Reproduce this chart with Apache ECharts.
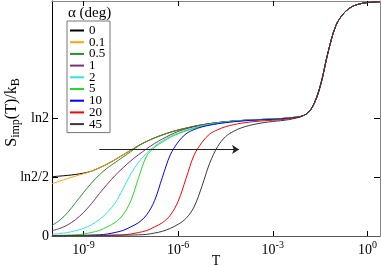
<!DOCTYPE html>
<html><head><meta charset="utf-8">
<script src="https://cdn.jsdelivr.net/npm/echarts@6/dist/echarts.min.js"></script>
<style>html,body{margin:0;padding:0;background:#fff}#c{width:382px;height:267px}</style>
</head><body><div id="c"></div>
<script>
// log10(T) sample points (low-T region, series-specific)
const logT = [-10,-9.75,-9.5,-9.25,-9,-8.75,-8.5,-8.25,-8,-7.75,-7.5,-7.25,-7,-6.75,-6.5,-6.25,-6,-5.75,-5.5,-5.25,-5,-4.75,-4.5,-4.25,-4,-3.75,-3.5,-3.25,-3,-2.5];
// high-T region, shared by all curves
const tailLogT = [-2,-1.75,-1.5,-1.25,-1,-0.75,-0.5,-0.25,0,0.4];
const tailS = [1.028,1.095,1.27,1.56,1.79,1.895,1.95,1.975,1.987,1.994];
// S_imp/k_B in units of ln2
const alphaNames = ['0','0.1','0.5','1','2','5','10','20','45'];
const sA0   = [0.505,0.51,0.516,0.524,0.535,0.552,0.58,0.612,0.65,0.69,0.73,0.77,0.805,0.835,0.86,0.883,0.902,0.918,0.933,0.946,0.956,0.965,0.972,0.978,0.983,0.987,0.99,0.993,0.995,1.005];
const sA01  = [0.445,0.468,0.49,0.51,0.53,0.552,0.58,0.612,0.65,0.69,0.73,0.77,0.805,0.835,0.86,0.883,0.902,0.918,0.933,0.946,0.956,0.965,0.972,0.978,0.983,0.987,0.99,0.993,0.995,1.005];
const sA05  = [0.09,0.135,0.2,0.285,0.37,0.45,0.52,0.578,0.625,0.672,0.718,0.77,0.805,0.835,0.86,0.883,0.902,0.918,0.933,0.946,0.956,0.965,0.972,0.978,0.983,0.987,0.99,0.993,0.995,1.005];
const sA1   = [0.045,0.065,0.095,0.14,0.2,0.275,0.36,0.44,0.515,0.58,0.64,0.693,0.742,0.787,0.826,0.86,0.89,0.912,0.93,0.944,0.956,0.965,0.972,0.978,0.983,0.987,0.99,0.993,0.995,1.005];
const sA2   = [0.015,0.02,0.03,0.045,0.065,0.095,0.14,0.2,0.28,0.4,0.53,0.63,0.705,0.765,0.81,0.848,0.877,0.9,0.92,0.938,0.951,0.961,0.969,0.976,0.982,0.986,0.99,0.993,0.995,1.005];
const sA5   = [0.005,0.005,0.008,0.01,0.017,0.03,0.047,0.078,0.115,0.18,0.3,0.5,0.68,0.755,0.8,0.84,0.87,0.895,0.915,0.933,0.947,0.958,0.967,0.975,0.981,0.985,0.989,0.992,0.994,1.005];
const sA10  = [0.003,0.003,0.004,0.005,0.005,0.008,0.01,0.017,0.03,0.047,0.078,0.115,0.18,0.3,0.5,0.69,0.8,0.87,0.905,0.928,0.943,0.955,0.964,0.972,0.978,0.983,0.987,0.99,0.993,1.003];
const sA20  = [0.003,0.003,0.004,0.004,0.005,0.005,0.006,0.007,0.008,0.01,0.017,0.03,0.046,0.077,0.113,0.177,0.295,0.49,0.685,0.795,0.868,0.904,0.93,0.947,0.96,0.969,0.976,0.981,0.985,0.998];
const sA45  = [0.002,0.002,0.003,0.003,0.004,0.004,0.005,0.005,0.006,0.007,0.008,0.01,0.014,0.025,0.04,0.065,0.1,0.15,0.245,0.42,0.62,0.76,0.845,0.89,0.92,0.94,0.955,0.966,0.975,0.99];
const xTickValues = [-9,-6,-3,0];
const yTickValues = [0.5,1];
const yLabelValues = [0,0.5,1];
const yLabelTexts = {0:'0',0.5:'ln2/2',1:'ln2'};
// arrow annotation (data coordinates)
const arrowFrom = [-8.5, 0.737];
const arrowTo = [-4.07, 0.737];

const seriesY = [sA0,sA01,sA05,sA1,sA2,sA5,sA10,sA20,sA45];
const colors = ['#000000','#ffa500','#2a8f2a','#7f3070','#33e3e3','#22dd22','#0000ff','#ff0000','#3a3a3a'];
const FONT = '"Liberation Serif", "Times New Roman", "DejaVu Serif", serif';
const allX = logT.concat(tailLogT);

const series = seriesY.map((ys, k) => {
  const yy = ys.concat(tailS);
  return {
    name: alphaNames[k], type: 'line', xAxisIndex: 0, yAxisIndex: 0,
    data: allX.map((x, i) => [x, yy[i]]),
    showSymbol: false, symbol: 'none', smooth: 0.35,
    lineStyle: {color: colors[k], width: 1}, itemStyle: {color: colors[k]},
    silent: true
  };
});
series.push({
  type: 'line', xAxisIndex: 0, yAxisIndex: 0, data: [], silent: true,
  markLine: {
    silent: true, symbol: ['none', 'arrow'], symbolSize: 7, animation: false,
    label: {show: false},
    lineStyle: {color: '#222', width: 1, type: 'solid'},
    data: [[{coord: arrowFrom}, {coord: arrowTo}]]
  }
});

const chart = echarts.init(document.getElementById('c'), null, {renderer: 'canvas'});
chart.setOption({
  animation: false,
  backgroundColor: '#fff',
  grid: {left: 52, right: 2, top: 1, bottom: 31, containLabel: false, outerBoundsMode: 'none'},
  graphic: [{type: 'text', left: 68, top: 6, style: {text: 'α (deg)', font: '15px "Liberation Serif", serif', fill: '#000'}}],
  legend: {
    orient: 'vertical', left: 67, top: 21, padding: [3, 3, 2, 3], itemGap: -1.3,
    itemWidth: 14, itemHeight: 2, icon: 'rect', selectedMode: false,
    backgroundColor: '#fff', borderColor: '#777', borderWidth: 1, borderRadius: 0,
    textStyle: {fontFamily: FONT, fontSize: 13, color: '#000', lineHeight: 11, width: 18, height: 11},
    data: alphaNames
  },
  xAxis: [{
    type: 'value', min: -10, max: 0.4, position: 'bottom',
    axisLine: {show: true, onZero: false, lineStyle: {color: '#555', width: 1}},
    axisTick: {show: true, inside: true, length: 5, customValues: xTickValues, lineStyle: {color: '#000'}},
    splitLine: {show: false},
    axisLabel: {
      customValues: xTickValues, margin: 4,
      formatter: v => '{b|10}{s|' + v + '}',
      rich: {b: {fontFamily: FONT, fontSize: 14, color: '#000'}, s: {fontFamily: FONT, fontSize: 10, color: '#000', padding: [0, 0, 10, 0]}}
    },
    name: 'T', nameLocation: 'middle', nameGap: 18, nameMoveOverlap: false,
    nameTextStyle: {fontFamily: FONT, fontSize: 14, color: '#000'}
  }, {
    type: 'value', min: -10, max: 0.4, position: 'top',
    axisLine: {show: true, onZero: false, lineStyle: {color: '#888', width: 1}},
    axisTick: {show: true, inside: true, length: 5, customValues: xTickValues, lineStyle: {color: '#000'}},
    axisLabel: {show: false}, splitLine: {show: false}
  }],
  yAxis: [{
    type: 'value', min: 0, max: 2, interval: 0.5, position: 'left',
    axisLine: {show: true, onZero: false, lineStyle: {color: '#000', width: 1}},
    axisTick: {show: true, inside: true, length: 6, customValues: yTickValues, lineStyle: {color: '#000'}},
    splitLine: {show: false},
    axisLabel: {
      customValues: yLabelValues, margin: 3,
      formatter: v => yLabelTexts[v] !== undefined ? yLabelTexts[v] : '',
      fontFamily: FONT, fontSize: 14, color: '#000'
    },
    name: '{n|S}{sub|imp}{n|(T)/k}{sub|B}', nameLocation: 'middle', nameGap: 30, nameRotate: 90, nameMoveOverlap: false,
    nameTextStyle: {
      padding: [0, 0, 0, 12],
      rich: {n: {fontFamily: FONT, fontSize: 16, color: '#000'}, sub: {fontFamily: FONT, fontSize: 12, color: '#000', padding: [9, 0, 0, 0]}}
    }
  }, {
    type: 'value', min: 0, max: 2, interval: 0.5, position: 'right',
    axisLine: {show: true, onZero: false, lineStyle: {color: '#888', width: 1}},
    axisTick: {show: true, inside: true, length: 6, customValues: yTickValues, lineStyle: {color: '#000'}},
    axisLabel: {show: false}, splitLine: {show: false}
  }],
  series: series
});
</script></body></html>
